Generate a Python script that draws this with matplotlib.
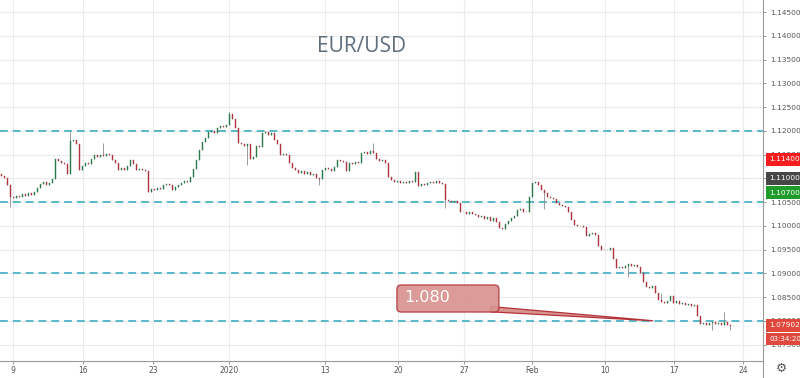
import numpy as np
import matplotlib
matplotlib.use('Agg')
import matplotlib.pyplot as plt
import matplotlib.transforms as mtransforms
from matplotlib.patches import FancyBboxPatch, Polygon
from matplotlib.lines import Line2D

# EUR/USD candles, open of each bar = previous close
first_open = 1.1110
closes = [
    1.1105, 1.1100, 1.1085, 1.1060, 1.1058, 1.1062, 1.1060, 1.1066, 1.1063, 1.1068,
    1.1065, 1.1072, 1.1080, 1.1088, 1.1092, 1.1085, 1.1090, 1.1098, 1.1140, 1.1136,
    1.1132, 1.1130, 1.1110, 1.1178, 1.1180, 1.1172, 1.1118, 1.1125, 1.1133, 1.1130,
    1.1140, 1.1148, 1.1145, 1.1150, 1.1146, 1.1152, 1.1148, 1.1138, 1.1132, 1.1118,
    1.1122, 1.1118, 1.1125, 1.1138, 1.1130, 1.1118, 1.1120, 1.1117, 1.1115, 1.1072,
    1.1078, 1.1076, 1.1080, 1.1078, 1.1085, 1.1088, 1.1086, 1.1076, 1.1082, 1.1086,
    1.1090, 1.1094, 1.1092, 1.1102, 1.1120, 1.1138, 1.1160, 1.1176, 1.1185, 1.1198,
    1.1200, 1.1196, 1.1205, 1.1210, 1.1208, 1.1212, 1.1235, 1.1225, 1.1205, 1.1175,
    1.1172, 1.1168, 1.1172, 1.1140, 1.1145, 1.1168, 1.1165, 1.1195, 1.1198, 1.1192,
    1.1196, 1.1180, 1.1172, 1.1150, 1.1152, 1.1148, 1.1132, 1.1122, 1.1118, 1.1112,
    1.1115, 1.1110, 1.1114, 1.1106, 1.1108, 1.1100, 1.1098, 1.1118, 1.1122, 1.1120,
    1.1116, 1.1124, 1.1138, 1.1136, 1.1134, 1.1115, 1.1132, 1.1130, 1.1134, 1.1132,
    1.1153, 1.1156, 1.1152, 1.1158, 1.1154, 1.1140, 1.1136, 1.1138, 1.1133, 1.1103,
    1.1096, 1.1092, 1.1094, 1.1090, 1.1093, 1.1091, 1.1095, 1.1092, 1.1113, 1.1084,
    1.1088, 1.1086, 1.1090, 1.1093, 1.1090, 1.1094, 1.1091, 1.1088, 1.1055, 1.1052,
    1.1049, 1.1052, 1.1048, 1.1030, 1.1028, 1.1025, 1.1029, 1.1024, 1.1022, 1.1018,
    1.1020, 1.1014, 1.1018, 1.1010, 1.1016, 1.1008, 1.0996, 1.0994, 1.1004, 1.1010,
    1.1016, 1.1020, 1.1034, 1.1036, 1.1030, 1.1028, 1.1060, 1.1090, 1.1093, 1.1086,
    1.1075, 1.1068, 1.1060, 1.1058, 1.1056, 1.1048, 1.1044, 1.1042, 1.1040, 1.1030,
    1.1012, 1.1002, 1.0999, 1.1000, 1.0997, 1.0978, 1.0982, 1.0984, 1.0980, 1.0958,
    1.0950, 1.0948, 1.0950, 1.0954, 1.0930, 1.0912, 1.0914, 1.0911, 1.0916, 1.0920,
    1.0915, 1.0918, 1.0914, 1.0900, 1.0882, 1.0872, 1.0870, 1.0873, 1.0858, 1.0843,
    1.0840, 1.0838, 1.0842, 1.0852, 1.0838, 1.0842, 1.0836, 1.0838, 1.0834, 1.0836,
    1.0832, 1.0834, 1.0810, 1.0793, 1.0796, 1.0792, 1.0795, 1.0798, 1.0793, 1.0796,
    1.0791, 1.0797, 1.0792, 1.0788, 1.0790,
]
# bars with a visible shadow, and the extreme price it reaches
wick_bars = [3, 23, 34, 76, 82, 106, 124, 148, 181, 209, 220, 237, 241, 243]
wick_prices = [1.1040, 1.1200, 1.1174, 1.1240, 1.1128, 1.1086, 1.1174, 1.1037,
               1.1035, 1.0892, 1.0858, 1.0781, 1.0818, 1.0780]

tick_bars = [3.7, 27.2, 50.5, 75.8, 107.8, 132.2, 154.2, 176.8, 201.2, 224.2, 247.2]
tick_labels = ['9', '16', '23', '2020', '13', '20', '27', 'Feb', '10', '17', '24']

levels = [1.120, 1.105, 1.090, 1.080]
badge_prices = [1.11400, 1.11000, 1.10700, 1.07902]
badge_colors = ['#f51d1d', '#474747', '#1e9b2b', '#e0473d']
countdown = '03:34:20'
callout_text = '1.080'
callout_price = 1.080

closes = np.array(closes)
opens = np.r_[first_open, closes[:-1]]
highs = np.maximum(opens, closes)
lows = np.minimum(opens, closes)
for b, p in zip(wick_bars, wick_prices):
    highs[b] = max(highs[b], p)
    lows[b] = min(lows[b], p)
x = np.arange(len(closes))
cols = np.where(closes >= opens, '#2c7a4b', '#ad3540')

fig = plt.figure(figsize=(8, 3.78), dpi=100)
ax = fig.add_axes([0, 17 / 378, 763 / 800, 361 / 378])

ax.set_xlim(-0.5, -0.5 + 763 / 3)
ax.set_ylim(1.145 - 349 / 4750, 1.145 + 12 / 4750)

ax.set_yticks(np.arange(1.075, 1.1451, 0.005))
ax.set_yticklabels([f'{v:.5f}' for v in np.arange(1.075, 1.1451, 0.005)])
ax.set_xticks(tick_bars)
ax.set_xticklabels(tick_labels)
ax.yaxis.tick_right()
ax.grid(True, color='#ebebee', lw=0.8, zorder=0)
ax.set_axisbelow(True)
ax.tick_params(axis='y', labelsize=5.3, labelcolor='#555555', color='#888888',
               length=2.5, width=0.6, pad=2.5)
ax.tick_params(axis='x', labelsize=5.5, labelcolor='#555555', color='#888888',
               length=2, width=0.6, pad=1.6)
for s in ['top', 'left']:
    ax.spines[s].set_visible(False)
for s in ['right', 'bottom']:
    ax.spines[s].set_color('#9a9a9a')
    ax.spines[s].set_linewidth(0.8)

for lvl in levels:
    ax.axhline(lvl, color='#58b9c9', lw=1.4, dashes=(4, 2.6), zorder=2)

ax.vlines(x, lows, highs, color='#8c8c8c', lw=0.6, zorder=3)
ax.bar(x, closes - opens, bottom=opens, width=0.58, color=cols,
       edgecolor=cols, linewidth=0.3, zorder=4)

# callout pointing at the 1.080 level
box = FancyBboxPatch((131.8, 1.08184), 34.0, 0.00569,
                     boxstyle='round,pad=0,rounding_size=1.4',
                     mutation_aspect=3 / 4750, fc='#d9938f', ec='#b3323a',
                     lw=0.9, alpha=0.92, zorder=7)
tail = Polygon([(163.0, 1.08300), (217.2, callout_price), (163.0, 1.08188)],
               closed=True, fc='#d9938f', ec='#b3323a', lw=0.9, zorder=6)
ax.add_patch(tail)
ax.add_patch(box)
ax.text(134.4, 1.08495, callout_text, ha='left', va='center', fontsize=11.5,
        color='white', zorder=8)

fig.text(361.5 / 800, 1 - 46 / 378, 'EUR/USD', ha='center', va='center',
         fontsize=15, color='#5d6d7c', family='Open Sans')

trans = mtransforms.blended_transform_factory(ax.transAxes, ax.transData)
for p, c in zip(badge_prices, badge_colors):
    ax.annotate(f'{p:.5f}', xy=(1, p), xycoords=trans, xytext=(4.5, 0),
                textcoords='offset points', ha='left', va='center', fontsize=5.3,
                color='white', annotation_clip=False, zorder=10,
                bbox=dict(boxstyle='square,pad=0.45', fc=c, ec='none'))
ax.annotate(countdown, xy=(1, badge_prices[-1]), xycoords=trans, xytext=(4.5, -10),
            textcoords='offset points', ha='left', va='center', fontsize=5.1,
            color='white', annotation_clip=False, zorder=10,
            bbox=dict(boxstyle='square,pad=0.45', fc=badge_colors[-1], ec='none'))

fig.add_artist(Line2D([763 / 800, 763 / 800], [0, 17 / 378], color='#9a9a9a', lw=0.8))
fig.text(781 / 800, 1 - 368 / 378, '\u2699', ha='center', va='center',
         fontsize=9, color='#555555')

fig.savefig('out.png', dpi=100)
